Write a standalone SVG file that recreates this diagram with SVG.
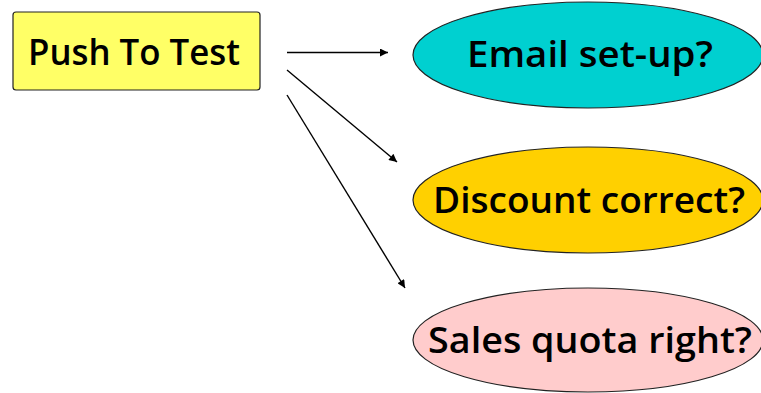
<svg xmlns="http://www.w3.org/2000/svg" width="761" height="393" viewBox="0 0 761 393">
<style>
.lbl{font-family:"Open Sans","Noto Sans","Liberation Sans",sans-serif;font-size:36px;fill:#000;font-weight:600}
.shape{stroke:#222;stroke-width:1.2}
.conn{stroke:#000;stroke-width:1.4;fill:none;marker-end:url(#ah)}
</style>
<defs>
<marker id="ah" viewBox="0 0 10 10" refX="10" refY="5" markerWidth="10" markerHeight="8" markerUnits="userSpaceOnUse" orient="auto">
<path d="M0,0 L10,5 L0,10 Z" fill="#000"/>
</marker>
</defs>
<rect width="761" height="393" fill="#fff"/>
<g id="push">
<rect class="shape" x="13" y="12" width="247" height="78" rx="3" fill="#FFFF66"/>
<text class="lbl" x="28" y="65" textLength="212" lengthAdjust="spacingAndGlyphs">Push To Test</text>
</g>
<g id="email">
<ellipse class="shape" cx="588" cy="55" rx="175" ry="53" fill="#00D0D0"/>
<text class="lbl" x="467" y="67" textLength="246" lengthAdjust="spacingAndGlyphs">Email set-up?</text>
</g>
<g id="discount">
<ellipse class="shape" cx="588" cy="200" rx="175" ry="53" fill="#FFD000"/>
<text class="lbl" x="433" y="213" textLength="312" lengthAdjust="spacingAndGlyphs">Discount correct?</text>
</g>
<g id="sales">
<ellipse class="shape" cx="588" cy="340" rx="175" ry="52" fill="#FFCCCC"/>
<text class="lbl" x="428" y="353" textLength="324" lengthAdjust="spacingAndGlyphs">Sales quota right?</text>
</g>
<g id="connectors">
<line class="conn" x1="287" y1="52.5" x2="388" y2="52.5"/>
<line class="conn" x1="287" y1="70" x2="397" y2="162"/>
<line class="conn" x1="287" y1="95" x2="405" y2="288"/>
</g>
</svg>
